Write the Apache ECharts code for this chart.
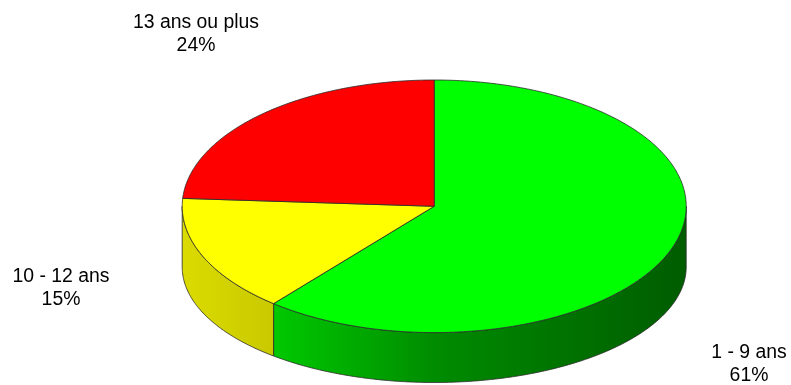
<!DOCTYPE html>
<html><head><meta charset="utf-8">
<script src="https://cdn.jsdelivr.net/npm/echarts@6/dist/echarts.min.js"></script>
<style>html,body{margin:0;padding:0;background:#fff}#c{width:791px;height:385px}</style>
</head><body><div id="c"></div>
<script>
// ---- data ----
const categories = ['1 - 9 ans', '10 - 12 ans', '13 ans ou plus'];
const values = [61, 15, 24];

// ---- style / layout ----
const colors = ['#00ff00', '#ffff00', '#ff0000'];
const labelPos = [[749, 364], [61, 288], [196, 34]];
const G = { cx: 434.2, topCy: 206.3, rx: 252, topRy: 126.3, botCy: 267, botRy: 115.5 };
const shadeStops = [[0, 0.86], [0.18, 0.79], [0.5, 0.55], [1, 0.36]];

function shade(hex, f) {
  const n = parseInt(hex.slice(1), 16);
  const r = Math.round(((n >> 16) & 255) * f), g = Math.round(((n >> 8) & 255) * f), b = Math.round((n & 255) * f);
  return 'rgb(' + r + ',' + g + ',' + b + ')';
}
function pt(t, cy, ry) { return [G.cx + G.rx * Math.sin(t), cy - ry * Math.cos(t)]; }
function arc(a, b, cy, ry) {
  const pts = [];
  const n = Math.max(2, Math.ceil(Math.abs(b - a) / 0.01));
  for (let i = 0; i <= n; i++) pts.push(pt(a + (b - a) * i / n, cy, ry));
  return pts;
}

const total = values.reduce((s, v) => s + v, 0);

const chart = echarts.init(document.getElementById('c'), null, { renderer: 'canvas' });
chart.setOption({
  animation: false,
  series: [{
    type: 'custom',
    coordinateSystem: 'none',
    data: values.map((v, i) => ({ value: v, name: categories[i] })),
    renderItem: function (params, api) {
      const i = params.dataIndex;
      let before = 0;
      for (let k = 0; k < i; k++) before += values[k];
      const t0 = before / total * 2 * Math.PI;
      const t1 = (before + api.value(0)) / total * 2 * Math.PI;
      const children = [];
      // front wall
      const a = Math.max(t0, Math.PI / 2), b = Math.min(t1, 3 * Math.PI / 2);
      if (a < b) {
        const wall = arc(a, b, G.topCy, G.topRy).concat(arc(b, a, G.botCy, G.botRy));
        children.push({
          type: 'polygon',
          shape: { points: wall },
          style: {
            fill: {
              type: 'linear', x: G.cx - G.rx, y: 0, x2: G.cx + G.rx, y2: 0, global: true,
              colorStops: shadeStops.map(s => ({ offset: s[0], color: shade(colors[i], s[1]) }))
            },
            stroke: '#2a2a2a', lineWidth: 0.8
          }
        });
      }
      // top face
      const top = [[G.cx, G.topCy]].concat(arc(t0, t1, G.topCy, G.topRy));
      children.push({
        type: 'polygon',
        shape: { points: top },
        style: { fill: colors[i], stroke: '#2a2a2a', lineWidth: 0.8 }
      });
      // label
      children.push({
        type: 'text',
        x: labelPos[i][0], y: labelPos[i][1],
        style: {
          text: categories[i] + '\n' + Math.round(api.value(0) / total * 100) + '%',
          align: 'center', verticalAlign: 'middle',
          textAlign: 'center', textVerticalAlign: 'middle',
          fontSize: 19.4, lineHeight: 22.5,
          fontFamily: '"Liberation Sans", Arial, sans-serif',
          fill: '#000'
        }
      });
      return { type: 'group', children: children };
    }
  }]
});
</script>
</body></html>
